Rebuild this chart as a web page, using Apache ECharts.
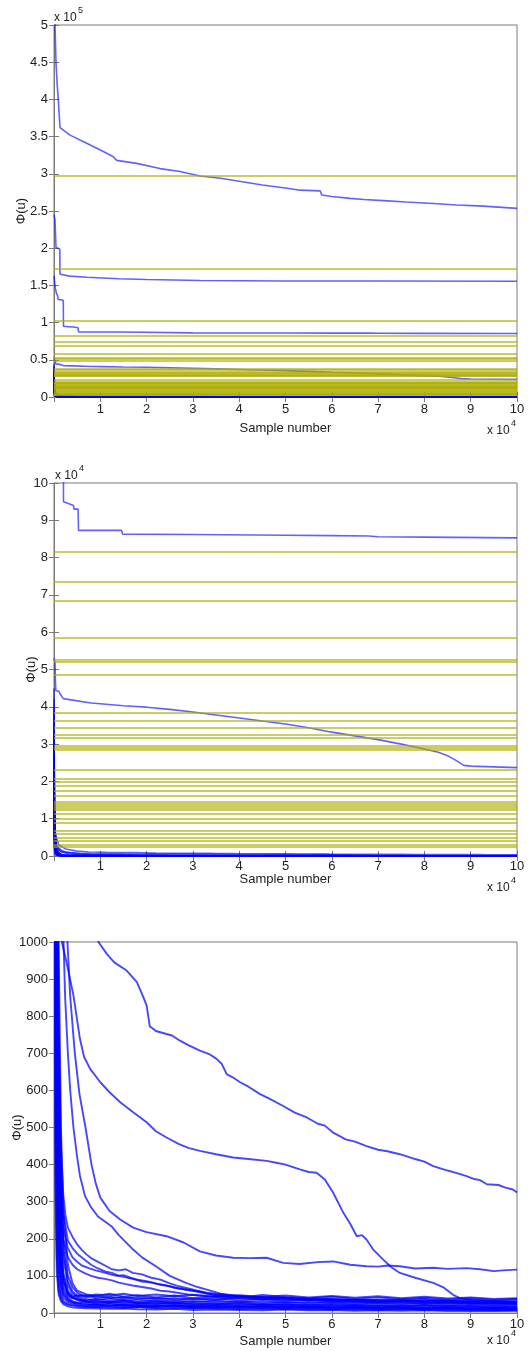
<!DOCTYPE html>
<html>
<head>
<meta charset="utf-8">
<script src="https://cdn.jsdelivr.net/npm/echarts@6/dist/echarts.min.js"></script>
<style>
html,body{margin:0;padding:0;background:#fff;}
#chart{width:532px;height:1351px;}
</style>
</head>
<body>
<div id="chart"></div>
<script>
// ---------------- DATA ----------------
// x: sample number, y: Phi(u)
const xTicks = [1,2,3,4,5,6,7,8,9,10]; // x 10^4

// horizontal reference levels (yellow)
const yellowLevels = [297000,172000,103000,81700,73600,68300,58500,52500,52000,48700,
  38300,36300,34300,32400,31800,29600,29000,28400,23000,20800,19800,18800,17500,16100,
  14600,14100,13500,13000,12300,11200,10100,9000,6700,6000,4900,4000,3100,2400];

const curveA = [[0,560000],[216,500000],[432,449000],[720,417000],[936,399000],[1150,377000],[1296,362000],
  [3456,352000],[7060,341000],[10650,330000],[12800,323000],[13540,318000],[17860,314000],[22890,307000],
  [27210,303000],[31530,297000],[36000,294000],[40000,290000],[45000,285000],[50000,281000],[53130,278000],
  [57500,277000],[57820,271500],[60000,269500],[63930,267000],[67000,265500],[71120,264000],[76000,262000],
  [81920,260000],[87000,258000],[92720,256500],[100000,253500]];

const curveB = [[0,245000],[216,238000],[432,201000],[1250,199000],[1296,165000],[3456,162500],[7060,161000],
  [14000,159000],[20000,158000],[31530,156500],[50000,156000],[70000,156000],[100000,155500]];

const curveC = [[0,163000],[216,150000],[300,146000],[500,140000],[800,136000],[900,131000],[2000,130000],
  [2050,95000],[3100,94500],[3200,94000],[4200,94000],[4300,93000],[5200,93000],[5300,87300],[14600,87300],
  [14800,86300],[30000,86200],[50000,86000],[60000,85900],[68000,85800],[70000,85600],[80000,85500],[100000,85300]];

const curveD = [[0,53000],[216,52000],[300,47000],[400,44300],[1000,44200],[1300,43500],[2000,42200],[4000,41800],
  [8000,41000],[10000,40800],[15000,40300],[20000,39900],[25000,39300],[30000,38600],[35000,37800],[40000,37000],
  [45000,36200],[50000,35400],[55000,34400],[60000,33200],[65000,32200],[70000,31200],[75000,30000],[80000,28700],
  [83000,27800],[85000,26900],[87000,25500],[88500,24300],[90000,24100],[95000,23900],[100000,23700]];

const curveT = [[0,30000],[100,12000],[300,6000],[1000,3000],[2500,1900],[5000,1300],[7500,1080],[9600,1000],
  [11400,968],[13000,945],[15700,923],[17900,892],[19000,860],[20000,829],[20700,772],[21400,766],[22000,760],
  [24300,752],[25500,748],[27200,734],[29000,722],[31500,707],[33500,698],[35100,685],[36200,672],[37300,644],
  [38500,636],[40200,622],[42000,610],[44500,590],[46500,578],[49500,558],[52000,540],[54600,527],[57000,510],
  [58500,505],[60300,486],[63000,468],[65000,462],[67500,450],[70000,440],[72000,436],[74700,428],[78000,415],
  [80000,408],[81900,396],[85000,384],[87000,377],[89100,369],[90500,362],[92000,358],[93500,347],[96000,345],
  [97500,338],[99100,333],[100000,325]];

const curveS = [[0,28000],[100,10000],[400,3500],[1000,1700],[1700,1000],[2700,946],[4200,856],[5600,739],
  [6500,690],[7800,658],[10000,622],[12000,595],[14300,568],[17100,541],[20000,514],[22000,490],[24300,473],
  [27000,455],[29000,445],[31500,437],[35000,428],[38700,419],[42000,415],[45900,410],[48000,405],[50000,400],
  [53100,387],[55000,380],[56700,378],[58500,360],[60300,324],[62500,270],[64000,240],[65400,207],[66500,210],
  [67500,198],[69000,170],[71100,144],[73000,122],[74700,108],[78000,95],[81900,81],[84000,70],[86200,49],
  [87700,40],[90000,35],[95000,30],[100000,28]];

const curveR = [[0,22000],[100,8000],[500,3000],[1500,1600],[2500,1100],[3500,853],[4500,700],[5500,590],
  [6800,500],[8100,400],[9000,350],[10000,311],[12000,275],[14300,252],[17100,230],[20000,218],[24300,207],
  [28000,190],[31500,166],[35000,155],[38700,149],[42000,148],[45900,149],[49500,135],[53000,132],[57000,137],
  [60300,139],[64000,130],[67500,126],[70000,125],[72000,128],[74700,126],[78000,120],[81900,122],[85000,119],
  [89100,121],[92000,118],[95000,113],[97000,115],[100000,117]];

const curveQ = [[0,20000],[100,7000],[500,2500],[1500,1250],[2400,853],[3000,700],[3500,600],[4200,500],
  [5000,420],[5600,370],[6700,315],[8000,285],[9500,260],[12400,234],[14000,210],[17100,171],[19000,150],
  [22000,126],[25000,100],[28500,81],[31000,70],[33000,63],[36000,52],[40000,45],[45000,40],[50000,38],
  [60000,33],[70000,30],[80000,32],[90000,28],[100000,25]];

const curveM1 = [[0,20000],[100,8000],[300,3000],[600,1300],[1000,750],[1500,450],[2000,320],[2500,260],
  [3000,230],[4000,205],[5000,185],[6000,170],[7000,158],[8000,148],[9500,138],[11000,128],[12500,118],
  [14000,115],[15500,118],[17000,108],[19000,104],[21000,95],[23000,90],[25000,80],[27000,72],[29000,66],
  [31000,60],[33000,55],[35000,52],[38000,48],[42000,44],[47000,42],[55000,38],[65000,35],[75000,33],
  [85000,34],[95000,31],[100000,30]];

const curveM2 = [[0,18000],[100,7000],[300,2500],[600,1100],[1000,620],[1500,380],[2000,270],[3000,195],
  [4000,175],[5000,160],[6500,145],[8000,130],[9500,120],[11000,112],[12500,108],[14000,100],[15500,96],
  [17000,92],[19000,85],[21000,82],[23000,76],[25000,72],[27000,66],[29000,62],[31000,58],[33000,52],
  [36000,48],[40000,45],[50000,40],[60000,36],[70000,33],[80000,31],[90000,29],[100000,28]];

const curveM3 = [[0,15000],[100,6000],[300,2000],[600,900],[1000,480],[1500,280],[2000,200],[3000,150],
  [4000,130],[5000,118],[6500,108],[8000,100],[9500,95],[11000,92],[12500,88],[14000,82],[15500,78],
  [17000,74],[19000,70],[21000,66],[23000,60],[25000,58],[27000,54],[29000,50],[31000,47],[34000,44],
  [38000,40],[45000,37],[55000,34],[65000,30],[75000,29],[85000,27],[95000,26],[100000,25]];

const curveM4 = [[0,16000],[100,6500],[300,2200],[600,1000],[1000,550],[1500,320],[2000,230],[3000,175],
  [4000,150],[5000,138],[6000,128],[7500,121],[9000,115],[10500,110],[12000,105],[13500,100],[15000,102],
  [16500,95],[18000,90],[20000,86],[22000,80],[24000,75],[26000,68],[28000,64],[30000,60],[32000,56],
  [34000,50],[37000,46],[42000,42],[50000,40],[60000,37],[70000,34],[80000,32],[90000,30],[100000,29]];

// dense band of curves near the bottom: shared x grid and per-curve values
const bandX = [0,100,300,600,1000,1500,2000,3000,4000,5000,7000,9000,12000,15000,18000,22000,26000,30000,
  35000,40000,45000,50000,55000,60000,65000,70000,75000,80000,85000,90000,95000,100000];
const band1 = [40000,9000,3000,1100,450,200,110,60,45,40,32,30,28,33,27,25,29,24,22,26,21,23,19,22,18,20,17,21,16,19,15,17];
const band2 = [30000,6000,1800,600,220,100,60,40,32,28,31,25,27,22,24,20,23,19,21,17,20,16,18,15,17,14,16,13,15,12,14,12];
const band3 = [45000,12000,4500,1800,800,380,200,100,70,55,42,46,40,43,38,41,36,39,35,42,37,40,34,38,33,36,35,38,32,36,33,35];
const band4 = [20000,4000,1000,300,110,55,40,30,26,22,20,24,19,21,18,17,20,16,15,18,14,16,13,15,12,14,11,13,12,11,13,10];
const band5 = [35000,10000,3500,1400,600,280,150,75,52,44,37,35,39,33,36,31,34,30,33,29,32,28,30,27,29,26,28,25,27,24,26,25];
const band6 = [15000,2500,500,150,60,38,28,22,20,18,16,17,15,14,16,13,12,14,11,12,10,11,9,10,9,8,10,8,9,7,8,7];
const band7 = [25000,7000,2200,800,320,150,85,50,40,38,30,33,28,30,26,29,25,27,24,26,23,25,22,24,21,23,20,22,19,21,20,19];
const band8 = [10000,1800,350,110,50,32,24,18,15,14,13,12,11,12,10,9,11,8,9,8,7,9,7,8,6,7,6,7,5,6,5,6];
const band9 = [42000,14000,5500,2200,1000,500,280,130,80,60,50,46,52,44,48,42,47,40,45,41,49,43,39,44,38,42,37,41,36,40,35,38];
const band10 = [28000,8000,2800,1000,400,180,100,55,42,35,30,28,31,26,29,25,27,23,26,22,24,21,23,20,22,19,21,18,20,17,18,16];
const band11 = [18000,5000,1400,450,160,75,48,34,28,25,23,21,24,19,22,18,20,17,19,16,18,15,17,14,16,13,15,14,12,13,11,12];
const band12 = [38000,11000,4000,1600,700,320,170,85,58,46,48,41,44,39,42,37,40,36,39,34,37,33,36,32,35,31,34,30,33,29,32,30];
const band13 = [33000,9000,3000,1000,380,170,90,52,44,48,45,50,47,52,46,50,45,49,44,48,43,47,42,46,41,45,40,44,39,42,38,40];
const band14 = [22000,5500,1600,500,180,85,52,36,30,27,25,22,20,23,19,21,18,20,17,19,16,18,15,17,14,16,15,13,14,12,13,11];
const band15 = [12000,3000,700,200,80,45,32,25,22,20,18,16,18,15,17,14,16,13,15,12,14,11,13,10,12,9,11,10,9,11,8,9];
const band16 = [26000,6500,2000,700,260,120,70,45,40,36,34,38,32,35,30,33,29,32,28,31,27,30,26,29,25,28,24,27,23,26,22,24];

// ---------------- BUILD ----------------
const bandCurves = [band1,band2,band3,band4,band5,band6,band7,band8,band9,band10,band11,band12,band13,band14,band15,band16]
  .map(ys => ys.map((y,k) => [bandX[k], y]));
const allCurves = [curveA,curveB,curveC,curveD,curveT,curveS,curveR,curveQ,curveM1,curveM2,curveM3,curveM4].concat(bandCurves);

const FONT = 'Liberation Sans, Arial, Helvetica, sans-serif';
const panels = [
  {top:25,  height:372, max:500000, interval:50000, div:1e5, nameGapY:26, nameGapX:25, labMargin:6, lw:1.6, col:'rgba(0,0,255,0.62)'},
  {top:483, height:373, max:100000, interval:10000, div:1e4, nameGapY:16, nameGapX:17, labMargin:4, lw:1.6, col:'rgba(0,0,255,0.62)'},
  {top:942, height:371, max:1000,   interval:100,   div:1,   nameGapY:30, nameGapX:22, labMargin:5, lw:1.9, col:'rgba(0,0,255,0.72)'}
];

const grids = [], xAxes = [], yAxes = [], series = [];
panels.forEach((p, i) => {
  grids.push({left:54, top:p.top, width:463, height:p.height, show:true, borderColor:'#7a7a7a', borderWidth:1,
    backgroundColor:'#fff', containLabel:false, outerBoundsMode:'none'});
  const tick = {show:true, inside:true, length:5, lineStyle:{color:'#7a7a7a', width:1}};
  xAxes.push({
    type:'value', gridIndex:i, min:0, max:100000, interval:10000, position:'bottom',
    axisLine:{show:true, onZero:false, lineStyle:{color:'#7a7a7a'}},
    axisTick:tick, splitLine:{show:false},
    axisLabel:{margin:p.labMargin, color:'#222', fontSize:13, fontFamily:FONT, hideOverlap:false,
      formatter: v => (v === 0 ? '' : String(xTicks[Math.round(v/10000)-1]))},
    name:'Sample number', nameLocation:'middle', nameGap:p.nameGapX, nameMoveOverlap:false,
    nameTextStyle:{color:'#222', fontSize:13, fontFamily:FONT}
  });
  xAxes.push({
    type:'value', gridIndex:i, min:0, max:100000, interval:10000, position:'top',
    axisLine:{show:false}, axisTick:tick, axisLabel:{show:false}, splitLine:{show:false}
  });
  yAxes.push({
    type:'value', gridIndex:i, min:0, max:p.max, interval:p.interval, position:'left',
    axisLine:{show:true, onZero:false, lineStyle:{color:'#7a7a7a'}},
    axisTick:tick, splitLine:{show:false},
    axisLabel:{margin:6, color:'#222', fontSize:13, fontFamily:FONT, hideOverlap:false,
      formatter: v => String(+(v/p.div).toFixed(2))},
    name:'\u03A6(u)', nameLocation:'middle', nameGap:p.nameGapY, nameRotate:90, nameMoveOverlap:false,
    nameTextStyle:{color:'#222', fontSize:13, fontFamily:FONT}
  });
  yAxes.push({
    type:'value', gridIndex:i, min:0, max:p.max, interval:p.interval, position:'right',
    axisLine:{show:false}, axisTick:tick, axisLabel:{show:false}, splitLine:{show:false}
  });
  allCurves.forEach(c => {
    series.push({
      type:'line', xAxisIndex:2*i, yAxisIndex:2*i, data:c, showSymbol:false, symbol:'none',
      silent:true, clip:true, z:2,
      lineStyle:{color:p.col, width:p.lw},
      emphasis:{disabled:true}
    });
  });
  series.push({
    type:'line', xAxisIndex:2*i, yAxisIndex:2*i, data:[], silent:true, z:3,
    markLine:{
      silent:true, symbol:['none','none'], animation:false, label:{show:false},
      lineStyle:{color:'rgba(172,172,0,0.62)', width:2, type:'solid'},
      emphasis:{disabled:true},
      data: yellowLevels.filter(v => v <= p.max).map(v => ({yAxis:v}))
    }
  });
});

function mult(x, y, exp) {
  return [
    {type:'text', left:x, top:y-7, style:{text:'x 10', fontSize:12, fontFamily:FONT, fill:'#222'}},
    {type:'text', left:x+24, top:y-13, style:{text:exp, fontSize:9, fontFamily:FONT, fill:'#222'}}
  ];
}
const graphics = [].concat(
  mult(54, 19, '5'), mult(487, 432, '4'),
  mult(55, 477, '4'), mult(487, 889, '4'),
  mult(487, 1342, '4')
);

const chart = echarts.init(document.getElementById('chart'), null, {renderer:'canvas'});
chart.setOption({
  animation:false,
  backgroundColor:'#fff',
  grid:grids, xAxis:xAxes, yAxis:yAxes, series:series,
  graphic:graphics
});
</script>
</body>
</html>
